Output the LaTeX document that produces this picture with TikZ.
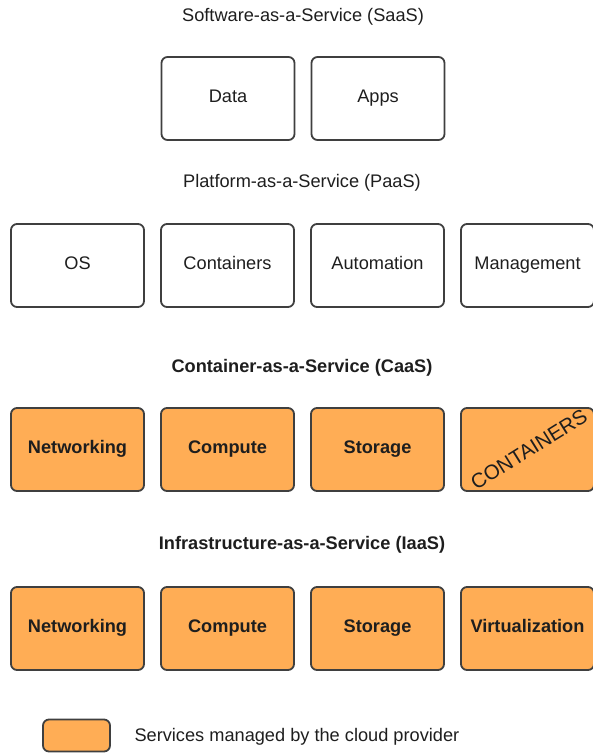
\documentclass[tikz,border=0pt]{standalone}
\usepackage{fontspec}
\usepackage{graphicx}
\setmainfont{Liberation Sans}
\definecolor{prov}{HTML}{FFAD55}
\definecolor{edge}{HTML}{3F3F3F}
\definecolor{ink}{HTML}{1E1E1E}
\begin{document}
\begin{tikzpicture}[x=1pt,y=-1pt,
  box/.style={draw=edge,line width=1.8pt,rounded corners=6pt,minimum width=133pt,minimum height=83pt,inner sep=0pt,text=ink,text height=12pt,text depth=4.8pt,font=\fontsize{18.2}{21}\selectfont},
  mbox/.style={box,fill=prov,font=\fontsize{18.2}{21}\selectfont\bfseries},
  ttl/.style={text=ink,font=\fontsize{18.2}{21}\selectfont},
  bttl/.style={text=ink,font=\fontsize{18.2}{21}\selectfont\bfseries}]
\useasboundingbox (0,0) rectangle (592,754);
% titles
\node[ttl] (saas) at (303,17) {Software-as-a-Service (SaaS)};
\node[ttl] (paas) at (302,183) {Platform-as-a-Service (PaaS)};
\node[bttl] (caas) at (302,368) {Container-as-a-Service (CaaS)};
\node[bttl] (iaas) at (302,545) {Infrastructure-as-a-Service (IaaS)};
% SaaS
\node[box] (data) at (228,98.5) {Data};
\node[box] (apps) at (378,98.5) {Apps};
% PaaS
\node[box] (os) at (77.5,265.5) {OS};
\node[box] (cont) at (227.5,265.5) {Containers};
\node[box] (auto) at (377.5,265.5) {Automation};
\node[box] (mgmt) at (527.5,265.5) {Management};
% CaaS
\node[mbox] (cnet) at (77.5,449.5) {Networking};
\node[mbox] (ccomp) at (227.5,449.5) {Compute};
\node[mbox] (cstor) at (377.5,449.5) {Storage};
\node[mbox,text height=,text depth=] (ccont) at (527.5,449.5) {\hspace*{3pt}\fontsize{20.5}{22}\mdseries\rotatebox{32}{CONTAINERS}};
% IaaS
\node[mbox] (inet) at (77.5,628.5) {Networking};
\node[mbox] (icomp) at (227.5,628.5) {Compute};
\node[mbox] (istor) at (377.5,628.5) {Storage};
\node[mbox] (ivirt) at (527.5,628.5) {Virtualization};
% legend
\node[box,fill=prov,minimum width=67pt,minimum height=32pt] (leg) at (76.5,735.5) {};
\node[ttl,anchor=west] (legt) at (131,737) {Services managed by the cloud provider};
\end{tikzpicture}
\end{document}
